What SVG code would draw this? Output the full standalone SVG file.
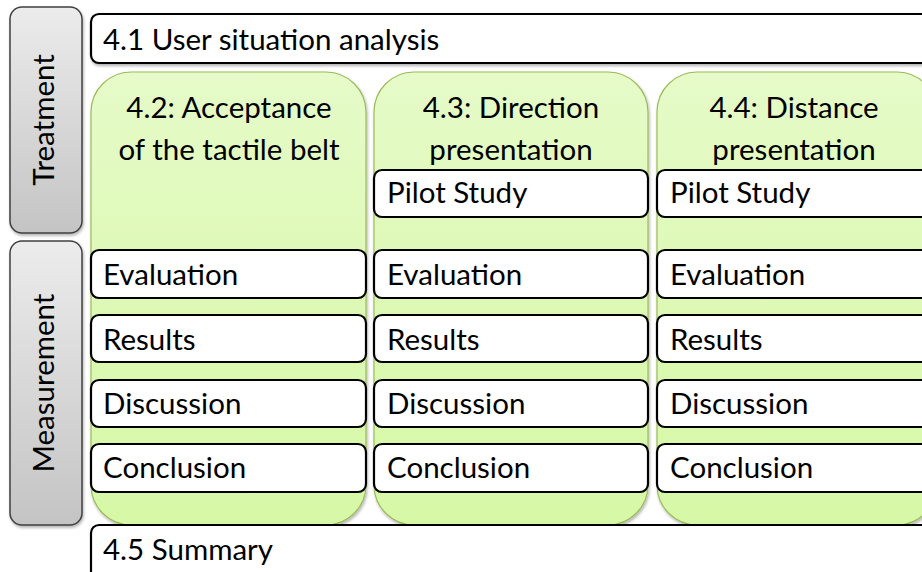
<svg xmlns="http://www.w3.org/2000/svg" width="922" height="572" viewBox="0 0 922 572">
<defs>
<linearGradient id="gray" x1="0" y1="0" x2="0" y2="1"><stop offset="0" stop-color="#ececec"/><stop offset="1" stop-color="#c4c4c4"/></linearGradient>
<linearGradient id="green" x1="0" y1="0" x2="0" y2="1"><stop offset="0" stop-color="#e6fbc9"/><stop offset="0.5" stop-color="#ddf9b5"/><stop offset="1" stop-color="#d6f8a6"/></linearGradient>
<filter id="sh" x="-5%" y="-5%" width="110%" height="115%"><feDropShadow dx="1" dy="2" stdDeviation="1.5" flood-color="#000" flood-opacity="0.3"/></filter>
</defs>
<style>
text{font-family:"Lato","Liberation Sans",sans-serif;font-size:29.5px;fill:#000}
.side{fill:url(#gray);stroke:#404040;stroke-width:1.5}
.col{fill:url(#green);stroke:#9bbb59;stroke-width:1.2}
.box{fill:#fff;stroke:#000;stroke-width:2.2}
.c{text-anchor:middle}
</style>
<rect width="922" height="572" fill="#fff"/>
<g id="treatment"><rect class="side" x="10" y="7" width="72" height="226" rx="12" filter="url(#sh)"/><text class="c" transform="translate(54,120) rotate(-90)">Treatment</text></g>
<g id="measurement"><rect class="side" x="10" y="241" width="72" height="284" rx="12" filter="url(#sh)"/><text class="c" transform="translate(54,383) rotate(-90)">Measurement</text></g>
<g id="n41"><rect class="box" x="91" y="14" width="840" height="49" rx="8" filter="url(#sh)"/><text x="103" y="50">4.1 User situation analysis</text></g>
<g id="n42">
<rect class="col" x="91" y="72" width="275" height="453" rx="40" filter="url(#sh)"/>
<text class="c" x="229" y="118">4.2: Acceptance</text><text class="c" x="229" y="160">of the tactile belt</text>
</g>
<g id="n43">
<rect class="col" x="374" y="72" width="274" height="453" rx="40" filter="url(#sh)"/>
<text class="c" x="511" y="118">4.3: Direction</text><text class="c" x="511" y="160">presentation</text>
</g>
<g id="n44">
<rect class="col" x="657" y="72" width="280" height="453" rx="40" filter="url(#sh)"/>
<text class="c" x="794" y="118">4.4: Distance</text><text class="c" x="794" y="160">presentation</text>
</g>
<g id="pilot43"><rect class="box" x="374" y="170" width="274" height="47" rx="8"/><text x="387" y="203">Pilot Study</text></g>
<g id="pilot44"><rect class="box" x="657" y="170" width="280" height="47" rx="8"/><text x="670" y="203">Pilot Study</text></g>
<g id="eval42"><rect class="box" x="91" y="250" width="275" height="48" rx="8"/><text x="103" y="285">Evaluation</text></g>
<g id="eval43"><rect class="box" x="374" y="250" width="274" height="48" rx="8"/><text x="387" y="285">Evaluation</text></g>
<g id="eval44"><rect class="box" x="657" y="250" width="280" height="48" rx="8"/><text x="670" y="285">Evaluation</text></g>
<g id="res42"><rect class="box" x="91" y="315" width="275" height="47" rx="8"/><text x="103" y="350">Results</text></g>
<g id="res43"><rect class="box" x="374" y="315" width="274" height="47" rx="8"/><text x="387" y="350">Results</text></g>
<g id="res44"><rect class="box" x="657" y="315" width="280" height="47" rx="8"/><text x="670" y="350">Results</text></g>
<g id="dis42"><rect class="box" x="91" y="380" width="275" height="47" rx="8"/><text x="103" y="414">Discussion</text></g>
<g id="dis43"><rect class="box" x="374" y="380" width="274" height="47" rx="8"/><text x="387" y="414">Discussion</text></g>
<g id="dis44"><rect class="box" x="657" y="380" width="280" height="47" rx="8"/><text x="670" y="414">Discussion</text></g>
<g id="con42"><rect class="box" x="91" y="444" width="275" height="48" rx="8"/><text x="103" y="478">Conclusion</text></g>
<g id="con43"><rect class="box" x="374" y="444" width="274" height="48" rx="8"/><text x="387" y="478">Conclusion</text></g>
<g id="con44"><rect class="box" x="657" y="444" width="280" height="48" rx="8"/><text x="670" y="478">Conclusion</text></g>
<g id="n45"><rect class="box" x="91" y="525" width="840" height="60" rx="8"/><text x="103" y="560">4.5 Summary</text></g>
<g id="connectors"/>
</svg>
